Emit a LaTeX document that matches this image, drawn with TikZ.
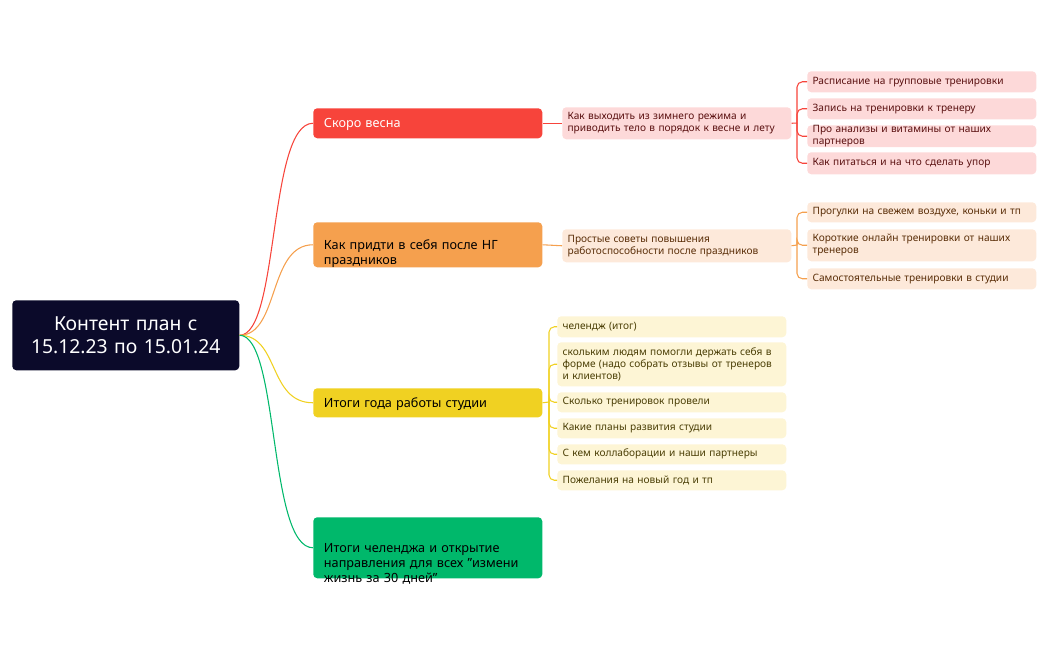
\documentclass[tikz,border=0pt]{standalone}
\usepackage{fontspec}
\setmainfont{Noto Sans}
\begin{document}
\begin{tikzpicture}[x=0.75pt,y=-0.75pt,
 box/.style={rounded corners=3pt,inner sep=0pt,anchor=north west,align=left},
 main/.style={box,text width=229*0.75pt-16pt,minimum width=229*0.75pt,text depth=0pt,inner xsep=8pt,font=\bfseries\fontsize{9.5}{11.5}\selectfont},
 leaf/.style={box,minimum width=229*0.75pt,text width=229*0.75pt-8pt,inner xsep=4pt,font=\fontsize{7.6}{9.2}\selectfont},
 con/.style={line width=0.8pt,rounded corners=4pt}]
\useasboundingbox (0,0) rectangle (1049,650);
\definecolor{navy}{HTML}{0B0A2A}
\definecolor{cr}{HTML}{F7443B}\definecolor{cr2}{HTML}{FDD9D9}\definecolor{tr}{HTML}{5A1010}
\definecolor{co}{HTML}{F5A04E}\definecolor{co2}{HTML}{FDE9DA}\definecolor{to}{HTML}{5A2E08}
\definecolor{cy}{HTML}{F0D122}\definecolor{cy2}{HTML}{FDF5D5}\definecolor{ty}{HTML}{4A3E05}
\definecolor{cg}{HTML}{00B86B}
\node[box,fill=navy,text=white,minimum width=227*0.75pt,minimum height=70*0.75pt,align=center,text width=227*0.75pt,font=\bfseries\fontsize{14.5}{17}\selectfont] (root) at (12,300) {Контент план с\\15.12.23 по 15.01.24};
% branches
\node[main,fill=cr,text=white,minimum height=30*0.75pt] (b1) at (313,108) {Скоро весна};
\node[main,fill=co,text=black,minimum height=45*0.75pt] (b2) at (313,222) {Как придти в себя после НГ праздников};
\node[main,fill=cy,text=black,minimum height=29*0.75pt] (b3) at (313,388) {Итоги года работы студии};
\node[main,fill=cg,text=black,minimum height=61*0.75pt] (b4) at (313,517) {Итоги челенджа и открытие направления для всех "измени жизнь за 30 дней"};
\foreach \b/\c in {b1/cr,b2/co,b3/cy,b4/cg}
  \draw[\c,line width=0.8pt] (root.east) .. controls +(40,0) and +(-45,0) .. (\b.west);
% sub 1
\node[leaf,fill=cr2,text=tr,minimum height=32*0.75pt] (s1) at (562,107) {Как выходить из зимнего режима и приводить тело в порядок к весне и лету};
\node[leaf,fill=cr2,text=tr,minimum height=21*0.75pt] (l11) at (807,71) {Расписание на групповые тренировки};
\node[leaf,fill=cr2,text=tr,minimum height=21*0.75pt] (l12) at (807,98) {Запись на тренировки к тренеру};
\node[leaf,fill=cr2,text=tr,minimum height=21*0.75pt] (l13) at (807,125) {Про анализы и витамины от наших партнеров};
\node[leaf,fill=cr2,text=tr,minimum height=22*0.75pt] (l14) at (807,152) {Как питаться и на что сделать упор};
\draw[cr,line width=0.8pt] (b1.east) -- (s1.west);
\coordinate (j1) at (797,123);
\draw[cr,line width=0.8pt] (s1.east) -- (j1);
\foreach \l in {l11,l12,l13,l14} \draw[cr,con] (j1) |- (\l.west);
% sub 2
\node[leaf,fill=co2,text=to,minimum height=33*0.75pt] (s2) at (562,229) {Простые советы повышения работоспособности после праздников};
\node[leaf,fill=co2,text=to,minimum height=20*0.75pt] (l21) at (807,202) {Прогулки на свежем воздухе, коньки и тп};
\node[leaf,fill=co2,text=to,minimum height=32*0.75pt] (l22) at (807,229) {Короткие онлайн тренировки от наших тренеров};
\node[leaf,fill=co2,text=to,minimum height=21*0.75pt] (l23) at (807,268) {Самостоятельные тренировки в студии};
\draw[co,line width=0.8pt] (b2.east) -- (s2.west);
\coordinate (j2) at (797,245);
\draw[co,line width=0.8pt] (s2.east) -- (j2);
\foreach \l in {l21,l22,l23} \draw[co,con] (j2) |- (\l.west);
% branch 3 leaves
\node[leaf,fill=cy2,text=ty,minimum height=21*0.75pt] (l31) at (557,316) {челендж (итог)};
\node[leaf,fill=cy2,text=ty,minimum height=44*0.75pt] (l32) at (557,342) {скольким людям помогли держать себя в форме (надо собрать отзывы от тренеров и клиентов)};
\node[leaf,fill=cy2,text=ty,minimum height=20*0.75pt] (l33) at (557,392) {Сколько тренировок провели};
\node[leaf,fill=cy2,text=ty,minimum height=20*0.75pt] (l34) at (557,418) {Какие планы развития студии};
\node[leaf,fill=cy2,text=ty,minimum height=20*0.75pt] (l35) at (557,444) {С кем коллаборации и наши партнеры};
\node[leaf,fill=cy2,text=ty,minimum height=20*0.75pt] (l36) at (557,470) {Пожелания на новый год и тп};
\coordinate (j3) at (549,402);
\draw[cy,line width=0.8pt] (b3.east) -- (j3);
\foreach \l in {l31,l32,l33,l34,l35,l36} \draw[cy,con] (j3) |- (\l.west);
\end{tikzpicture}
\end{document}
